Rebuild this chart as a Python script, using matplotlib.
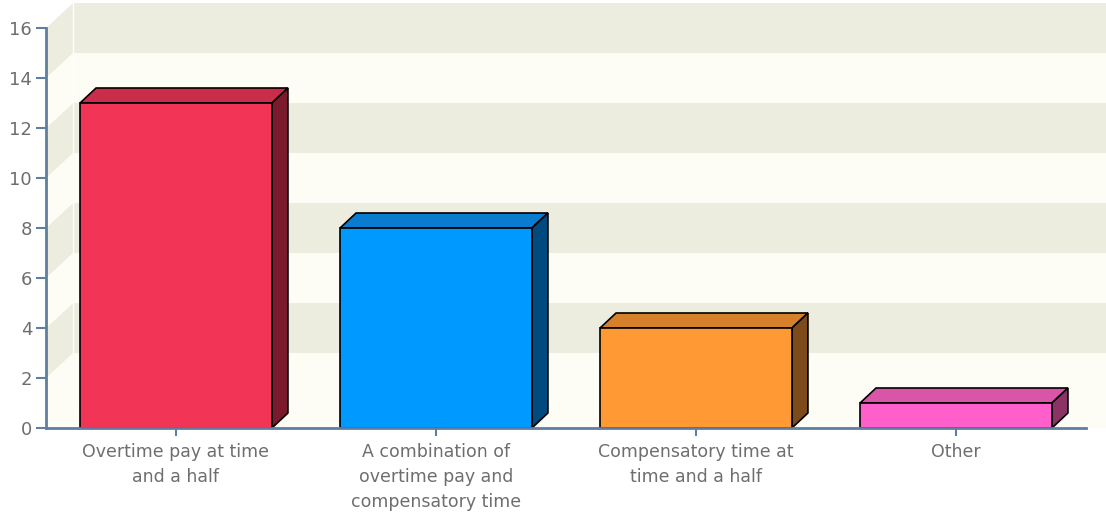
import matplotlib as mlp
mlp.use("Agg")
import matplotlib.pyplot as plt
from matplotlib.patches import Polygon, Rectangle

categories = ["Overtime pay at time\nand a half",
              "A combination of\novertime pay and\ncompensatory time",
              "Compensatory time at\ntime and a half",
              "Other"]
values = [13, 8, 4, 1]
front_colors = ["#F23456", "#0099FF", "#FF9933", "#FF5FCB"]
top_colors = ["#C92D49", "#0A7CD0", "#D6802C", "#D955A8"]
side_colors = ["#7A1A2C", "#004A80", "#7D4A1C", "#8A3466"]

yticks = list(range(0, 17, 2))

beige = "#ECECDF"
light = "#FDFDF5"
axis_col = "#5E7EA2"
text_col = "#6E6E6E"

fig = plt.figure(figsize=(11.06, 5.16), dpi=100)
fig.patch.set_facecolor("white")
ax = fig.add_axes([46 / 1106, 88 / 516, 1040 / 1106, 400 / 516])
ax.set_xlim(-0.5, 3.5)
ax.set_ylim(0, 16)
ax.set_facecolor("none")

# depth of walls and bars in data units (260 px per category, 25 px per unit)
wdx, wdy = 27 / 260, 1.0
bdx, bdy = 16 / 260, 0.6
x0 = -0.5
x_end = 3.5 + 0.3

# floor + walls
ax.add_patch(Polygon([(x0, 0), (x0 + wdx, wdy), (x_end, wdy), (x_end, 0)],
                     closed=True, fc=light, ec="none", clip_on=False, zorder=0))
for k in range(8):
    a, b = yticks[k], yticks[k] + 2
    col = beige if k % 2 == 1 else light
    ax.add_patch(Polygon([(x0 + wdx, a + wdy), (x_end, a + wdy), (x_end, b + wdy), (x0 + wdx, b + wdy)],
                         closed=True, fc=col, ec="none", clip_on=False, zorder=0))
    ax.add_patch(Polygon([(x0, a), (x0 + wdx, a + wdy), (x0 + wdx, b + wdy), (x0, b)],
                         closed=True, fc=col, ec="none", clip_on=False, zorder=0))
ax.plot([x0 + wdx, x0 + wdx], [wdy, 16 + wdy], color="white", lw=1, clip_on=False, zorder=0.5)

w = 0.738
for i, v in enumerate(values):
    l, r = i - w / 2, i + w / 2
    ax.add_patch(Polygon([(l, v), (l + bdx, v + bdy), (r + bdx, v + bdy), (r, v)],
                         closed=True, fc=top_colors[i], ec="black", lw=1.2, clip_on=False, zorder=2))
    ax.add_patch(Polygon([(r, 0), (r + bdx, bdy), (r + bdx, v + bdy), (r, v)],
                         closed=True, fc=side_colors[i], ec="black", lw=1.2, clip_on=False, zorder=2))
    ax.add_patch(Rectangle((l, 0), w, v, fc=front_colors[i], ec="black", lw=1.2, zorder=3))

for s in ["top", "right"]:
    ax.spines[s].set_visible(False)
for s in ["left", "bottom"]:
    ax.spines[s].set_color(axis_col)
    ax.spines[s].set_linewidth(2)
    ax.spines[s].set_zorder(4)

ax.set_yticks(yticks)
ax.set_xticks(range(len(categories)))
ax.set_xticklabels(categories, linespacing=1.5)
ax.tick_params(axis="y", length=7, width=1.5, color=axis_col, labelcolor=text_col, labelsize=13, pad=3)
ax.tick_params(axis="x", length=6, width=1.5, color=axis_col, labelcolor=text_col, labelsize=12.5, pad=5)

fig.savefig("out.png", dpi=100)
